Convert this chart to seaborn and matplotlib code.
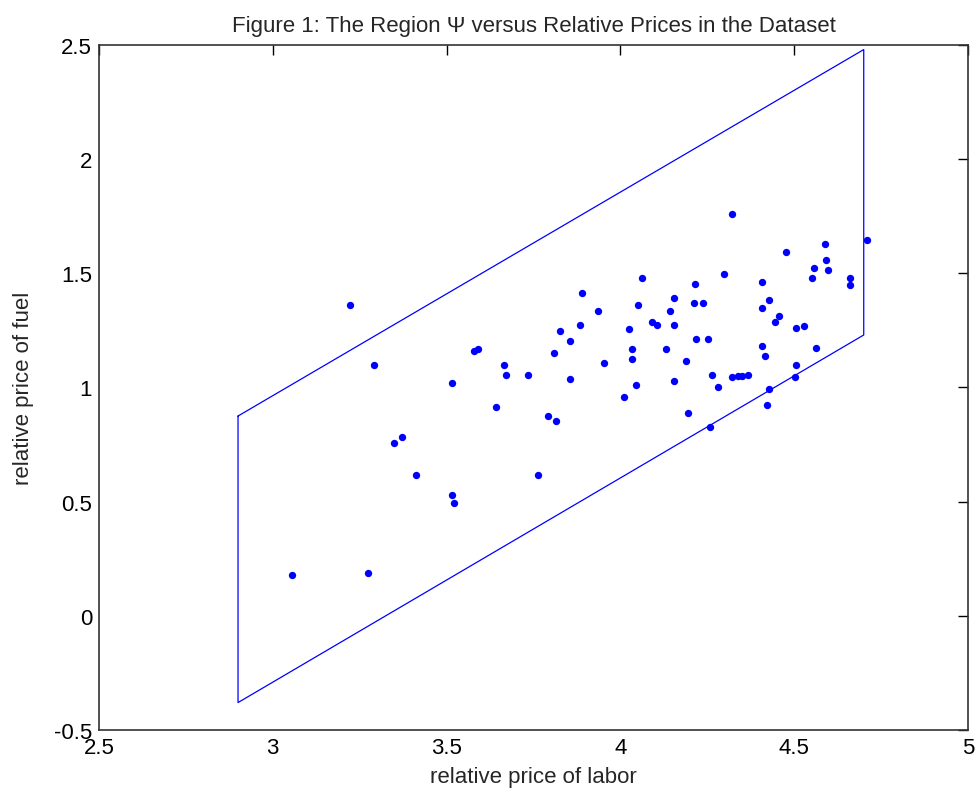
import numpy as np
import pandas as pd
import matplotlib
matplotlib.use('Agg')
import matplotlib.pyplot as plt
from matplotlib.ticker import FormatStrFormatter
import seaborn as sns

labor = [3.222, 3.291, 3.055, 3.275, 3.349, 3.373, 3.413, 3.516, 3.516, 3.522,
         3.579, 3.590, 3.642, 3.665, 3.671, 3.735, 3.763, 3.792, 3.816, 3.809,
         3.826, 3.855, 3.855, 3.885, 3.890, 3.936, 3.953, 4.010, 4.024, 4.034,
         4.034, 4.045, 4.052, 4.063, 4.090, 4.104, 4.132, 4.143, 4.155, 4.155,
         4.155, 4.190, 4.195, 4.214, 4.213, 4.237, 4.218, 4.253, 4.258, 4.264,
         4.281, 4.298, 4.322, 4.322, 4.337, 4.350, 4.368, 4.408, 4.408, 4.408,
         4.415, 4.421, 4.427, 4.427, 4.445, 4.455, 4.477, 4.501, 4.506, 4.506,
         4.529, 4.552, 4.558, 4.564, 4.588, 4.592, 4.598, 4.661, 4.661, 4.709]
fuel = [1.363, 1.098, 0.179, 0.187, 0.757, 0.783, 0.617, 1.020, 0.529, 0.493,
        1.161, 1.170, 0.916, 1.098, 1.055, 1.056, 0.617, 0.874, 0.853, 1.152,
        1.249, 1.205, 1.038, 1.275, 1.415, 1.336, 1.108, 0.960, 1.258, 1.170,
        1.126, 1.012, 1.363, 1.479, 1.285, 1.275, 1.170, 1.336, 1.390, 1.275,
        1.030, 1.117, 0.888, 1.452, 1.371, 1.371, 1.212, 1.212, 0.828, 1.056,
        1.003, 1.496, 1.758, 1.047, 1.049, 1.051, 1.054, 1.461, 1.347, 1.180,
        1.136, 0.925, 1.382, 0.995, 1.285, 1.312, 1.592, 1.047, 1.100, 1.259,
        1.268, 1.478, 1.522, 1.171, 1.627, 1.557, 1.513, 1.481, 1.450, 1.645]

# corners of the region Psi
region_labor = [2.9, 4.7, 4.7, 2.9, 2.9]
region_fuel = [0.875, 2.48, 1.23, -0.38, 0.875]

df = pd.DataFrame({'labor': labor, 'fuel': fuel})

sns.set_style('white')
plt.rcParams['font.family'] = ['Liberation Sans', 'DejaVu Sans']
plt.rcParams['axes.unicode_minus'] = False

fig = plt.figure(figsize=(9.78, 8.03), dpi=100)
ax = fig.add_axes([0.1012, 0.0897, 0.8886, 0.853])

ax.plot(region_labor, region_fuel, color='#0000ff', linewidth=0.9)
sns.scatterplot(data=df, x='labor', y='fuel', ax=ax, color='#0000ff',
                s=28, linewidth=0, zorder=3)

ax.set_xlim(2.5, 5)
ax.set_ylim(-0.5, 2.5)
ax.set_xticks(np.arange(2.5, 5.01, 0.5))
ax.set_yticks(np.arange(-0.5, 2.51, 0.5))
ax.xaxis.set_major_formatter(FormatStrFormatter('%g'))
ax.yaxis.set_major_formatter(FormatStrFormatter('%g'))
ax.tick_params(direction='in', length=7, width=1, top=True, right=True,
               labelsize=16, colors='black', pad=5)
for sp in ax.spines.values():
    sp.set_color('#333333')
    sp.set_linewidth(1.2)

ax.set_xlabel('relative price of labor', fontsize=16, labelpad=6)
ax.set_ylabel('relative price of fuel', fontsize=16, labelpad=14)
ax.set_title('Figure 1: The Region \u03a8 versus Relative Prices in the Dataset',
             fontsize=16, pad=10)

fig.savefig('out.png', dpi=100)
